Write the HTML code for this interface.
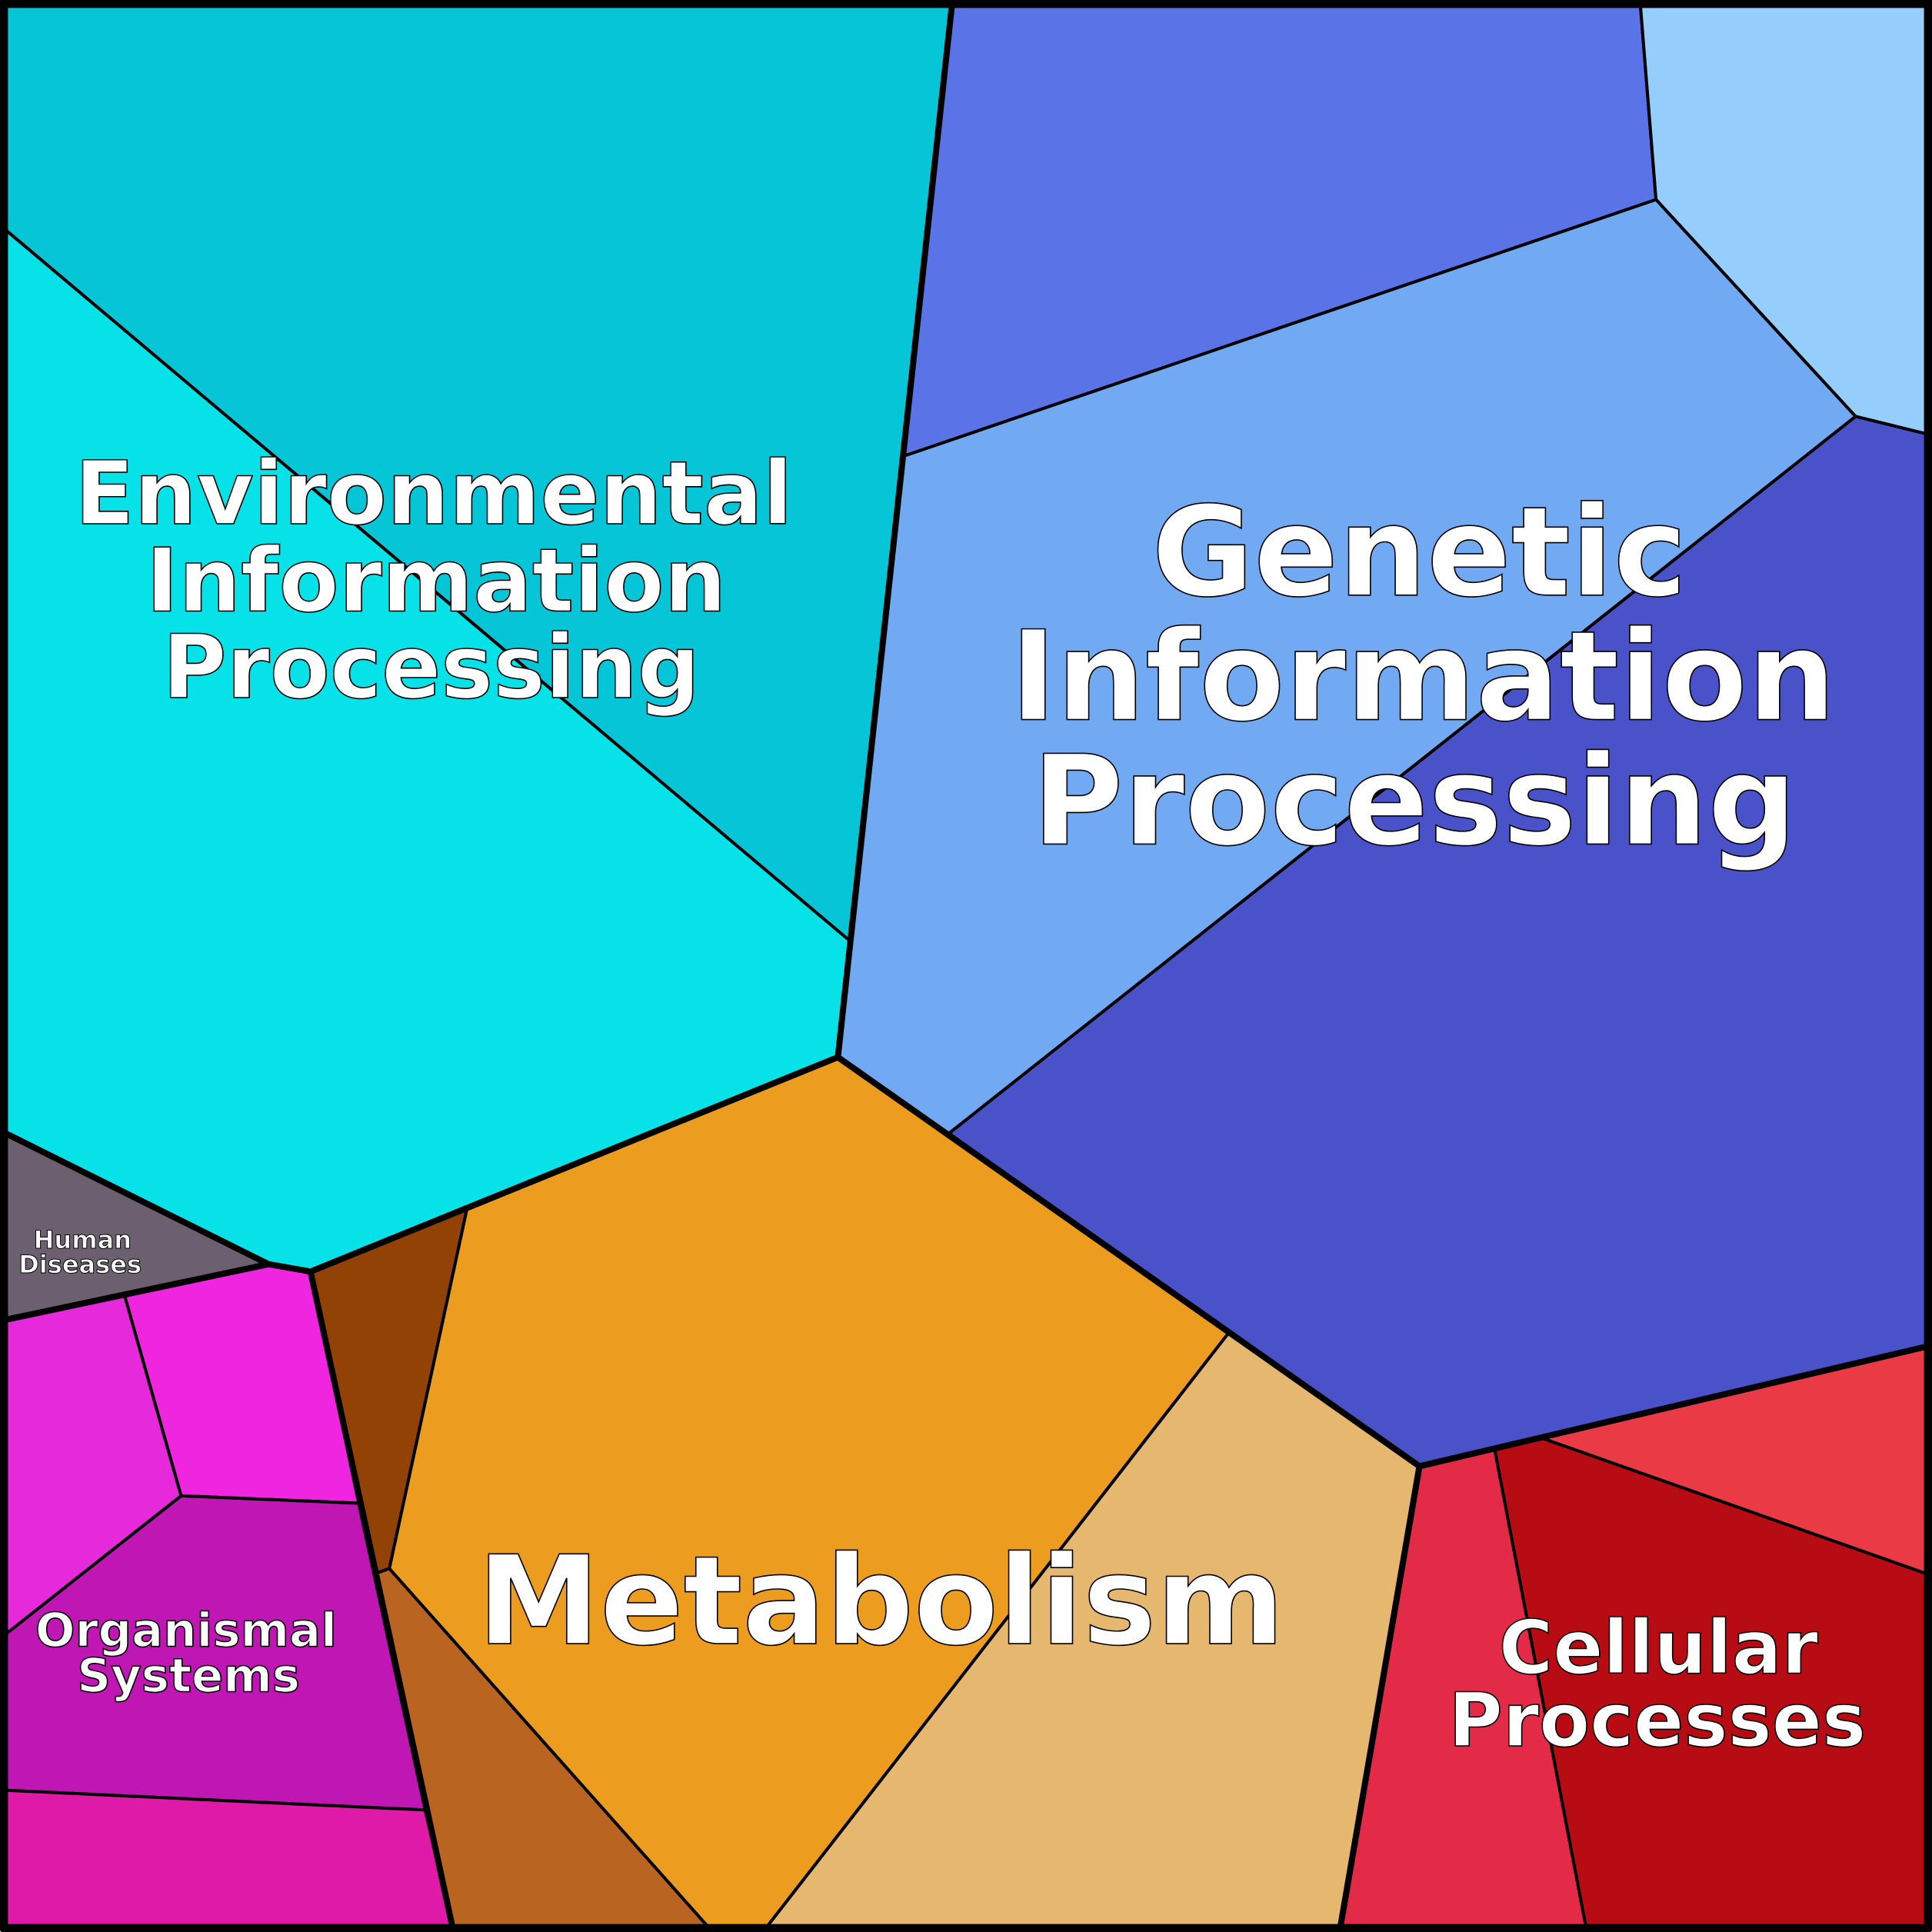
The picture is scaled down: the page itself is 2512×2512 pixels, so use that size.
<!DOCTYPE html>
<html><head><style>html,body{margin:0;padding:0;background:#fff}svg{display:block}</style></head>
<body>
<svg width="2512" height="2512" viewBox="0 0 1568 1568" xmlns="http://www.w3.org/2000/svg">
<g stroke="#000" stroke-width="2.5" stroke-linejoin="round">
<polygon fill="#06C5D6" points="0,0 773,0 689,763 5,187"/>
<polygon fill="#06E2E8" points="5,187 689,763 680,858 252,1032 218,1026 5,920"/>
<polygon fill="#6C5F6F" points="5,920 218,1026 5,1071"/>
<polygon fill="#E529DB" points="5,1071 101,1051 147,1214 5,1326"/>
<polygon fill="#EF25DF" points="101,1051 218,1026 252,1032 291,1220 147,1214"/>
<polygon fill="#C016B4" points="147,1214 291,1220 345,1469 5,1453 5,1326"/>
<polygon fill="#DF1AA9" points="5,1453 345,1469 367,1563 5,1563"/>
<polygon fill="#924205" points="252,1032 379,981 316,1273 305,1277"/>
<polygon fill="#BA6422" points="305,1277 316,1273 574,1563 367,1563"/>
<polygon fill="#EC9C1E" points="379,981 680,858 997,1082 623,1563 574,1563 316,1273"/>
<polygon fill="#E6B76E" points="997,1082 1152,1190 1088,1563 623,1563"/>
<polygon fill="#E32B47" points="1152,1190 1213,1176 1287,1563 1088,1563"/>
<polygon fill="#B80C15" points="1213,1176 1251,1167 1563,1277 1563,1563 1287,1563"/>
<polygon fill="#EA3A45" points="1251,1167 1563,1093 1563,1277"/>
<polygon fill="#5A73E6" points="773,0 1331,0 1344,162 734,370"/>
<polygon fill="#95CEFC" points="1331,0 1568,0 1563,352 1506,338 1344,162"/>
<polygon fill="#72A9F3" points="734,370 1344,162 1506,338 770,920 680,858"/>
<polygon fill="#4A52CA" points="770,920 1506,338 1563,352 1563,1093 1152,1190"/>
</g>
<g stroke="#000" stroke-width="5" fill="none" stroke-linejoin="round">
<polyline points="773,0 680,858 1152,1190 1563,1093"/>
<polyline points="680,858 252,1032 218,1026 5,920"/>
<polyline points="218,1026 5,1071"/>
<polyline points="252,1032 367,1563"/>
<polyline points="1152,1190 1088,1563"/>
<rect x="3" y="3" width="1562" height="1562" stroke-width="7"/>
</g>
<g font-family="'DejaVu Sans','Liberation Sans',sans-serif" font-weight="bold" fill="#fff" stroke="#000" stroke-width="1" text-anchor="middle">
<text font-size="71" x="352" y="425">Environmental</text>
<text font-size="71" x="354" y="496">Information</text>
<text font-size="71" x="350" y="566">Processing</text>
<text font-size="101" x="1152" y="483">Genetic</text>
<text font-size="101" x="1155" y="584">Information</text>
<text font-size="101" x="1148" y="685">Processing</text>
<text font-size="100" x="715" y="1334">Metabolism</text>
<text font-size="60" x="1346" y="1358">Cellular</text>
<text font-size="60" x="1345" y="1417">Processes</text>
<text font-size="38" x="151" y="1336">Organismal</text>
<text font-size="38" x="153" y="1373">Systems</text>
<text font-size="20" x="67" y="1013" stroke-width="0.6">Human</text>
<text font-size="20" x="65" y="1033" stroke-width="0.6">Diseases</text>
</g>
</svg>
</body></html>
